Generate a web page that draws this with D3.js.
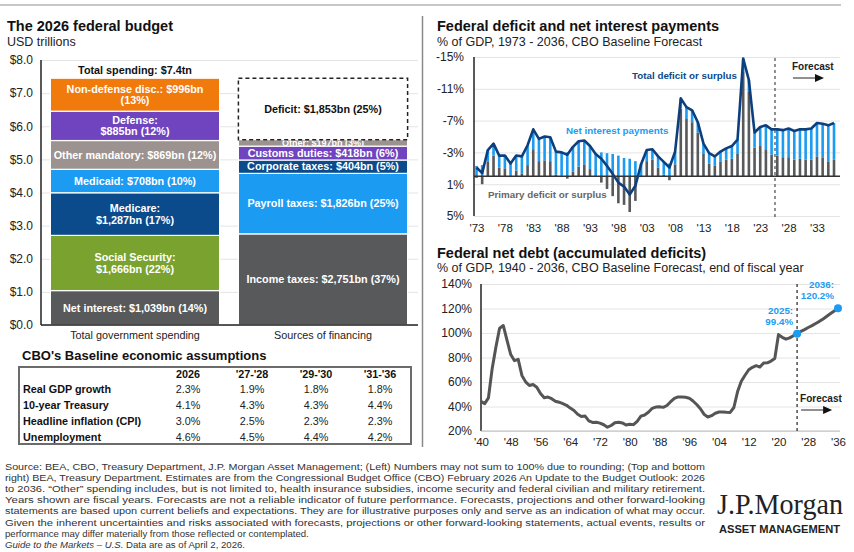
<!DOCTYPE html>
<html>
<head>
<meta charset="utf-8">
<script src="https://cdn.jsdelivr.net/npm/d3@7"></script>
<style>
body { margin: 0; background: #fff; }
svg { display: block; font-family: "Liberation Sans", Arial, sans-serif; }
</style>
</head>
<body>
<script>
// The 2026 federal budget, stacked from the bottom up (USD trillions).
var spendNames = ['Net interest', 'Social Security', 'Medicare', 'Medicaid', 'Other mandatory', 'Defense', 'Non-defense disc.'];
var spendVals = [1.039, 1.666, 1.287, 0.708, 0.869, 0.885, 0.996];
var spendLabels = [
	['Net interest: $1,039bn (14%)'],
	['Social Security:', '$1,666bn (22%)'],
	['Medicare:', '$1,287bn (17%)'],
	['Medicaid: $708bn (10%)'],
	['Other mandatory: $869bn (12%)'],
	['Defense:', '$885bn (12%)'],
	['Non-defense disc.: $996bn', '(13%)']
];
var financeNames = ['Income taxes', 'Payroll taxes', 'Corporate taxes', 'Customs duties', 'Other', 'Deficit'];
var financeVals = [2.751, 1.826, 0.404, 0.418, 0.197, 1.853];
var financeLabels = [
	['Income taxes: $2,751bn (37%)'],
	['Payroll taxes: $1,826bn (25%)'],
	['Corporate taxes: $404bn (5%)'],
	['Customs duties: $418bn (6%)'],
	['Other: $197bn (3%)'],
	['Deficit: $1,853bn (25%)']
];
var barCategories = ['Total government spending', 'Sources of financing'];
var budgetTicks = [0, 1, 2, 3, 4, 5, 6, 7, 8];

// CBO economic assumptions table.
var tableCols = ['2026', "'27-'28", "'29-'30", "'31-'36"];
var tableRows = ['Real GDP growth', '10-year Treasury', 'Headline inflation (CPI)', 'Unemployment'];
var tableVals = [
	[2.3, 1.9, 1.8, 1.8],
	[4.1, 4.3, 4.3, 4.4],
	[3.0, 2.5, 2.3, 2.3],
	[4.6, 4.5, 4.4, 4.2]
];

// Deficit chart, % of GDP, deficit positive. 1973 - 2036.
var deficitYears = d3.range(1973, 2037);
var totalDeficit = [
	1.1, 0.4, 3.3, 4.1, 2.6, 2.6, 1.6, 2.6, 2.5, 3.9,
	5.9, 4.7, 5.0, 4.9, 3.1, 3.0, 2.7, 3.7, 4.4, 4.5,
	3.8, 2.8, 2.2, 1.3, 0.3, -0.8, -1.3, -2.3, -1.2, 1.5,
	3.3, 3.4, 2.5, 1.8, 1.1, 3.1, 9.8, 8.7, 8.3, 6.8,
	4.1, 2.9, 2.5, 3.1, 3.5, 3.8, 4.6, 14.8, 12.1, 5.5,
	6.2, 6.4, 5.9, 5.9, 5.8, 6.0, 5.7, 5.9, 5.9, 6.0,
	6.7, 6.6, 6.4, 6.7
];
var netInterest = [
	1.3, 1.4, 1.5, 1.5, 1.5, 1.6, 1.7, 1.9, 2.2, 2.5,
	2.5, 2.8, 3.0, 3.0, 2.9, 2.9, 3.0, 3.1, 3.2, 3.0,
	2.9, 2.8, 3.0, 2.9, 2.8, 2.6, 2.3, 2.2, 1.9, 1.6,
	1.4, 1.3, 1.4, 1.6, 1.6, 1.6, 1.3, 1.5, 1.5, 1.3,
	1.3, 1.3, 1.2, 1.3, 1.4, 1.6, 1.8, 1.6, 1.5, 1.9,
	2.4, 3.1, 3.2, 3.3, 3.4, 3.6, 3.6, 3.7, 3.8, 3.9,
	4.2, 4.3, 4.6, 4.6
];
var deficitTicks = [15, 11, 7, 3, -1, -5];
var deficitYearTicks = [1973, 1978, 1983, 1988, 1993, 1998, 2003, 2008, 2013, 2018, 2023, 2028, 2033];

// Net debt held by the public, % of GDP, 1940 - 2036.
var debtYears = d3.range(1940, 2037);
var netDebt = [
	44.2, 42.3, 47.0, 70.9, 88.3, 103.9, 106.1, 93.9, 82.4, 77.4,
	78.5, 65.4, 60.1, 57.1, 57.9, 55.7, 50.6, 47.2, 47.7, 46.4,
	44.3, 43.5, 42.3, 41.0, 38.7, 36.7, 33.7, 31.8, 32.2, 28.3,
	27.0, 27.1, 26.4, 25.1, 23.1, 24.5, 26.7, 27.1, 26.6, 24.9,
	25.5, 25.2, 27.9, 32.1, 33.1, 35.3, 38.4, 39.5, 39.8, 39.3,
	40.8, 43.9, 46.6, 47.8, 47.7, 47.5, 46.8, 44.5, 41.6, 38.2,
	33.6, 31.4, 32.5, 34.5, 35.5, 35.6, 35.3, 35.2, 39.2, 52.2,
	60.6, 65.5, 70.0, 72.0, 73.3, 72.2, 75.6, 75.7, 77.1, 79.2,
	98.7, 96.5, 95.0, 96.0, 97.8, 99.4, 101.3, 102.8, 104.5, 106.0,
	107.8, 109.5, 111.5, 113.7, 115.9, 118.0, 120.2
];
var debtTicks = [20, 40, 60, 80, 100, 120, 140];
var debtYearTicks = [1940, 1948, 1956, 1964, 1972, 1980, 1988, 1996, 2004, 2012, 2020, 2028, 2036];
var debtCallouts = [[2025, '2025:', '99.4%'], [2036, '2036:', '120.2%']];

var footnote = [
	'Source: BEA, CBO, Treasury Department, J.P. Morgan Asset Management; (Left) Numbers may not sum to 100% due to rounding; (Top and bottom',
	'right) BEA, Treasury Department. Estimates are from the Congressional Budget Office (CBO) February 2026 An Update to the Budget Outlook: 2026',
	'to 2036. \u201cOther\u201d spending includes, but is not limited to, health insurance subsidies, income security and federal civilian and military retirement.',
	'Years shown are fiscal years. Forecasts are not a reliable indicator of future performance. Forecasts, projections and other forward-looking',
	'statements are based upon current beliefs and expectations. They are for illustrative purposes only and serve as an indication of what may occur.',
	'Given the inherent uncertainties and risks associated with forecasts, projections or other forward-looking statements, actual events, results or',
	'performance may differ materially from those reflected or contemplated.'
];

var C = {
	gray: '#58595b', green: '#7aa22e', navy: '#0b4a8b', blue: '#1b9cf2',
	taupe: '#9c9391', purple: '#7043bf', orange: '#f07a0b', line: '#0d3f7e'
};
var spendColors = [C.gray, C.green, C.navy, C.blue, C.taupe, C.purple, C.orange];
var financeColors = [C.gray, C.blue, C.navy, C.purple, C.taupe, '#fff'];

var svg = d3.select('body').append('svg').attr('width', 854).attr('height', 552);
var defs = svg.append('defs');

function text(g, x, y, str, size, weight, fill, anchor) {
	return g.append('text').attr('x', x).attr('y', y).text(str)
		.attr('font-size', size).attr('font-weight', weight || 'normal')
		.attr('fill', fill || '#222').attr('text-anchor', anchor || 'start');
}

function gridAxis(g, scale, ticks, fmt, x0, x1, pad) {
	g.attr('transform', 'translate(' + x0 + ',0)')
		.call(d3.axisLeft(scale).tickValues(ticks).tickFormat(fmt).tickSize(-(x1 - x0)).tickPadding(pad));
	g.select('.domain').remove();
	g.selectAll('line').attr('stroke', '#e4e4e4');
	g.selectAll('text').attr('font-size', 12).attr('fill', '#222').attr('font-family', 'Liberation Sans, Arial');
}

function yearAxis(g, scale, ticks, y, pad) {
	g.attr('transform', 'translate(0,' + y + ')')
		.call(d3.axisBottom(scale).tickValues(ticks).tickSize(0).tickPadding(pad)
			.tickFormat(function(d) { return "'" + String(d).slice(2); }));
	g.select('.domain').remove();
	g.selectAll('text').attr('font-size', 11.5).attr('fill', '#222').attr('font-family', 'Liberation Sans, Arial');
}

function forecastArrow(g, x, y) {
	text(g, x, y, 'Forecast', 10, 'bold', '#222');
	g.append('line').attr('x1', x + 1).attr('x2', x + 25).attr('y1', y + 8).attr('y2', y + 8)
		.attr('stroke', '#222').attr('stroke-width', 1);
	g.append('path').attr('d', 'M' + (x + 23) + ',' + (y + 4) + 'L' + (x + 32) + ',' + (y + 8) + 'L' + (x + 23) + ',' + (y + 12) + 'Z')
		.attr('fill', '#111');
}

// Frame lines.
svg.append('line').attr('x1', 0).attr('x2', 841).attr('y1', 5).attr('y2', 5).attr('stroke', '#b5b5b5').attr('stroke-width', 1.5);
svg.append('line').attr('x1', 422.5).attr('x2', 422.5).attr('y1', 16).attr('y2', 447).attr('stroke', '#8a8a8a').attr('stroke-width', 1.5);

// ---- Left: stacked budget bars ----
var leftG = svg.append('g');
text(leftG, 7, 31, 'The 2026 federal budget', 14.5, 'bold', '#111');
text(leftG, 7, 46, 'USD trillions', 12.5, 'normal', '#222');

var yB = d3.scaleLinear().domain([0, 8]).range([325, 60]);
var xB = d3.scaleBand().domain(barCategories).range([41, 417]).paddingInner(0.1).paddingOuter(0.05);

gridAxis(leftG.append('g'), yB, budgetTicks, function(d) { return '$' + d.toFixed(1); }, 41, 418, 8);

var clipCount = 0;
function stackBar(cat, vals, colors, labels, labelFill) {
	var ends = d3.cumsum(vals);
	var x0 = xB(cat), w = xB.bandwidth();
	var g = leftG.append('g');
	vals.forEach(function(v, i) {
		var hi = ends[i], lo = ends[i] - v;
		var segH = yB(lo) - yB(hi);
		var r = g.append('rect').attr('x', x0).attr('width', w)
			.attr('y', yB(hi)).attr('height', segH);
		if (colors[i] == '#fff') {
			r.attr('fill', '#fff').attr('stroke', '#222').attr('stroke-width', 1.5).attr('stroke-dasharray', '4,3');
		} else {
			r.attr('fill', colors[i]).attr('stroke', '#fff').attr('stroke-width', 1.2);
		}
		var cy = (yB(hi) + yB(lo)) / 2;
		var lines = labels[i];
		// thin slices get a smaller label clipped to the slice, as in the original
		var size = segH < 10 ? 9 : 10.8;
		var lg = g.append('g');
		if (segH < 10) {
			var id = 'seg' + (clipCount++);
			defs.append('clipPath').attr('id', id).append('rect')
				.attr('x', x0).attr('width', w).attr('y', yB(hi) + 0.5).attr('height', segH - 0.5);
			lg.attr('clip-path', 'url(#' + id + ')');
		}
		lines.forEach(function(s, j) {
			var dy = (j - (lines.length - 1) / 2) * 11.5;
			text(lg, x0 + w / 2, cy + dy + size * 0.35, s, size, 'bold', labelFill[i], 'middle');
		});
	});
	return ends;
}

var spendEnds = stackBar(barCategories[0], spendVals, spendColors, spendLabels, spendNames.map(function() { return '#fff'; }));
stackBar(barCategories[1], financeVals, financeColors, financeLabels, financeNames.map(function(n) { return n == 'Deficit' ? '#111' : '#fff'; }));

text(leftG, xB(barCategories[0]) + xB.bandwidth() / 2, yB(spendEnds[spendEnds.length - 1]) - 4,
	'Total spending: $' + d3.sum(spendVals).toFixed(1) + 'tn', 10.8, 'bold', '#111', 'middle');

leftG.append('line').attr('x1', 41).attr('x2', 41).attr('y1', yB(8)).attr('y2', yB(0)).attr('stroke', '#222').attr('stroke-width', 1.5);
leftG.append('line').attr('x1', 41).attr('x2', 418).attr('y1', yB(0)).attr('y2', yB(0)).attr('stroke', '#222').attr('stroke-width', 1.5);
barCategories.forEach(function(c) {
	text(leftG, xB(c) + xB.bandwidth() / 2, 339, c, 10.8, 'normal', '#222', 'middle');
});

// ---- Left: assumptions table ----
var tbl = svg.append('g');
text(tbl, 22, 360, "CBO's Baseline economic assumptions", 13, 'bold', '#111');
tbl.append('rect').attr('x', 19).attr('y', 367).attr('width', 392).attr('height', 77)
	.attr('fill', 'none').attr('stroke', '#6b6b6b').attr('stroke-width', 2);
var colX = d3.scalePoint().domain(tableCols).range([188, 380]);
var rowY = d3.scalePoint().domain(tableRows).range([393, 441]);
tableCols.forEach(function(c) { text(tbl, colX(c), 378, c, 10.8, 'bold', '#111', 'middle'); });
tableRows.forEach(function(r, i) {
	text(tbl, 23, rowY(r), r, 10.8, 'bold', '#111');
	tableVals[i].forEach(function(v, j) {
		text(tbl, colX(tableCols[j]), rowY(r), v.toFixed(1) + '%', 10.8, 'normal', '#222', 'middle');
	});
});

// ---- Top right: deficit and net interest ----
var upper = svg.append('g');
text(upper, 437, 31, 'Federal deficit and net interest payments', 14.5, 'bold', '#111');
text(upper, 437, 46, '% of GDP, 1973 - 2036, CBO Baseline Forecast', 12.5, 'normal', '#222');

var xD = d3.scaleLinear().domain([1973, 2036]).range([476.5, 834]);
var yD = d3.scaleLinear().domain([15, -5]).range([57, 216]);
gridAxis(upper.append('g'), yD, deficitTicks, function(d) { return (-d) + '%'; }, 474, 840, 10);
yearAxis(upper.append('g'), xD, deficitYearTicks, 216, 8);

var bw = 2.6;
var bars = upper.append('g');
deficitYears.forEach(function(yr, i) {
	var primary = totalDeficit[i] - netInterest[i];
	var base = Math.max(primary, 0);
	bars.append('rect').attr('x', xD(yr) - bw / 2).attr('width', bw)
		.attr('y', Math.min(yD(0), yD(primary))).attr('height', Math.abs(yD(0) - yD(primary)))
		.attr('fill', C.gray);
	bars.append('rect').attr('x', xD(yr) - bw / 2).attr('width', bw)
		.attr('y', yD(base + netInterest[i])).attr('height', yD(base) - yD(base + netInterest[i]))
		.attr('fill', C.blue);
});

upper.append('line').attr('x1', 474).attr('x2', 840).attr('y1', yD(0)).attr('y2', yD(0)).attr('stroke', '#333').attr('stroke-width', 1.5);
upper.append('line').attr('x1', 474).attr('x2', 474).attr('y1', yD(15)).attr('y2', yD(-5)).attr('stroke', '#222').attr('stroke-width', 1.5);

upper.append('path')
	.datum(deficitYears)
	.attr('d', d3.line().x(function(d) { return xD(d); }).y(function(d, i) { return yD(totalDeficit[i]); }))
	.attr('fill', 'none').attr('stroke', C.line).attr('stroke-width', 2.6).attr('stroke-linejoin', 'round');

var fx = xD(2025.6);
upper.append('line').attr('x1', fx).attr('x2', fx).attr('y1', 58).attr('y2', 219)
	.attr('stroke', '#555').attr('stroke-width', 1.3).attr('stroke-dasharray', '3,3');
forecastArrow(upper, fx + 17, 70);

text(upper, 632, 78.5, 'Total deficit or surplus', 9.8, 'bold', C.navy);
text(upper, 566, 133.5, 'Net interest payments', 9.8, 'bold', C.blue);
text(upper, 488, 197.5, 'Primary deficit or surplus', 9.8, 'bold', '#666');

// ---- Bottom right: net debt ----
var bot = svg.append('g');
text(bot, 437, 258, 'Federal net debt (accumulated deficits)', 14.5, 'bold', '#111');
text(bot, 437, 272, '% of GDP, 1940 - 2036, CBO Baseline Forecast, end of fiscal year', 12.5, 'normal', '#222');

var xN = d3.scaleLinear().domain([1940, 2036]).range([481, 838]);
var yN = d3.scaleLinear().domain([20, 140]).range([431, 284]);
gridAxis(bot.append('g'), yN, debtTicks, function(d) { return d + '%'; }, 481, 840, 9);
yearAxis(bot.append('g'), xN, debtYearTicks, 431, 7);
bot.append('line').attr('x1', 481).attr('x2', 481).attr('y1', yN(140)).attr('y2', yN(20)).attr('stroke', '#222').attr('stroke-width', 1.5);
bot.append('line').attr('x1', 481).attr('x2', 840).attr('y1', yN(20)).attr('y2', yN(20)).attr('stroke', '#bbb').attr('stroke-width', 1);

var nx = xN(2025);
bot.append('line').attr('x1', nx).attr('x2', nx).attr('y1', yN(140)).attr('y2', yN(20))
	.attr('stroke', '#333').attr('stroke-width', 1.3).attr('stroke-dasharray', '3,3');
forecastArrow(bot, nx + 3, 402);

bot.append('path')
	.datum(debtYears)
	.attr('d', d3.line().x(function(d) { return xN(d); }).y(function(d, i) { return yN(netDebt[i]); }))
	.attr('fill', 'none').attr('stroke', '#555').attr('stroke-width', 3).attr('stroke-linejoin', 'round');

debtCallouts.forEach(function(c) {
	var v = netDebt[debtYears.indexOf(c[0])];
	bot.append('circle').attr('cx', xN(c[0])).attr('cy', yN(v)).attr('r', 4).attr('fill', C.blue);
	text(bot, xN(c[0]) - 4, yN(v) - 20, c[1], 9.8, 'bold', C.blue, 'end');
	text(bot, xN(c[0]) - 4, yN(v) - 9, c[2], 9.8, 'bold', C.blue, 'end');
});

// ---- Footer ----
var foot = svg.append('g');
footnote.forEach(function(s, i) {
	var t = text(foot, 5, 469.5 + i * 11.2, s, 9.6, 'normal', '#333');
	if (i < footnote.length - 1) t.attr('textLength', 700).attr('lengthAdjust', 'spacingAndGlyphs');
});
var lastLine = foot.append('text').attr('x', 5).attr('y', 469.5 + 7 * 11.2).attr('font-size', 9.6).attr('fill', '#333');
lastLine.append('tspan').attr('font-style', 'italic').text('Guide to the Markets \u2013 U.S.');
lastLine.append('tspan').text(' Data are as of April 2, 2026.');

text(foot, 717, 514, 'J.P.Morgan', 30, 'normal', '#222')
	.attr('font-family', 'Liberation Serif, Times New Roman, serif')
	.attr('textLength', 126).attr('lengthAdjust', 'spacingAndGlyphs');
text(foot, 719, 533, 'ASSET MANAGEMENT', 11.5, 'bold', '#222')
	.attr('textLength', 121).attr('lengthAdjust', 'spacingAndGlyphs');
</script>
</body>
</html>
